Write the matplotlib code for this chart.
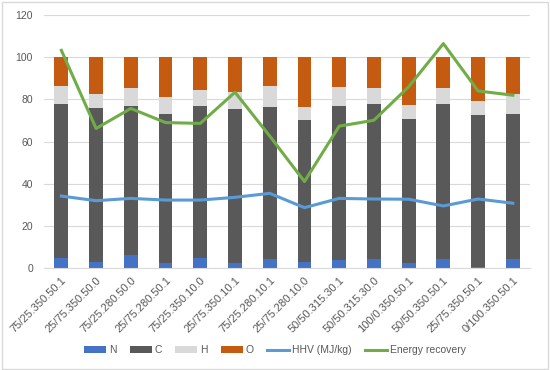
import matplotlib.pyplot as plt
import numpy as np
from matplotlib.patches import Rectangle

plt.rcParams["font.family"] = ["Liberation Sans", "DejaVu Sans"]

categories = ["75/25.350.50.1", "25/75.350.50.0", "75/25.280.50.0", "25/75.280.50.1",
              "75/25.350.10.0", "25/75.350.10.1", "75/25.280.10.1", "25/75.280.10.0",
              "50/50.315.30.1", "50/50.315.30.0", "100/0.350.50.1", "50/50.350.50.1",
              "25/75.350.50.1", "0/100.350.50.1"]

# cumulative tops
n_vals = [4.7, 2.8, 6.0, 2.2, 4.7, 2.4, 4.1, 2.8, 3.8, 4.1, 2.4, 4.4, 0.5, 4.1]
c_top = [77.6, 75.7, 76.8, 73.3, 77.1, 75.4, 76.2, 70.3, 77.1, 77.7, 70.8, 78.0, 72.5, 73.1]
h_top = [86.3, 82.8, 85.2, 81.2, 84.5, 83.4, 86.3, 76.5, 86.0, 85.2, 77.4, 85.5, 79.1, 82.8]
total = [100] * 14

hhv = [34.1, 31.9, 33.0, 32.2, 32.2, 33.5, 35.4, 28.6, 33.0, 32.7, 32.6, 29.4, 32.7, 30.7]
energy = [103.3, 66.2, 75.7, 69.0, 68.6, 83.4, 62.6, 41.0, 67.3, 70.1, 86.0, 106.5, 84.0, 82.0]

n = np.array(n_vals)
c = np.array(c_top) - n
h = np.array(h_top) - np.array(c_top)
o = np.array(total) - np.array(h_top)

x = np.arange(len(categories))
w = 0.4

fig = plt.figure(figsize=(5.5, 3.7), dpi=100)
ax = fig.add_axes([0.08, 0.276, 0.884, 0.683])

bn = ax.bar(x, n, w, color="#4472C4", label="N", zorder=2)
bc = ax.bar(x, c, w, bottom=n, color="#595959", label="C", zorder=2)
bh = ax.bar(x, h, w, bottom=n + c, color="#D9D9D9", label="H", zorder=2)
bo = ax.bar(x, o, w, bottom=n + c + h, color="#C55A11", label="O", zorder=2)
l1, = ax.plot(x, hhv, color="#5B9BD5", lw=2.2, label="HHV (MJ/kg)", zorder=3)
l2, = ax.plot(x, energy, color="#70AD47", lw=2.2, label="Energy recovery", zorder=3)

ax.set_ylim(0, 120)
ax.set_yticks(range(0, 121, 20))
ax.set_xlim(-0.5, len(categories) - 0.5)
ax.set_xticks(x)
ax.set_xticklabels(categories, rotation=45, ha="right", rotation_mode="anchor")
ax.yaxis.grid(True, color="#D9D9D9", lw=0.8, zorder=0)
ax.tick_params(axis="both", length=0, labelsize=7.5, colors="#595959")
ax.tick_params(axis="x", pad=5, labelsize=8)
ax.tick_params(axis="y", pad=8)
for s in ["top", "right", "left"]:
    ax.spines[s].set_visible(False)
ax.spines["bottom"].set_color("#D9D9D9")

fig.legend([bn, bc, bh, bo, l1, l2], ["N", "C", "H", "O", "HHV (MJ/kg)", "Energy recovery"],
           loc="center", bbox_to_anchor=(0.5, 0.054), ncol=6, frameon=False,
           fontsize=7.5, labelcolor="#595959", handlelength=2.1, handleheight=0.6,
           columnspacing=1.25, handletextpad=0.3)

fig.patches.append(Rectangle((0.003, 0.004), 0.994, 0.99, transform=fig.transFigure,
                             fill=False, edgecolor="#D9D9D9", lw=1))

fig.savefig("out.png", dpi=100)
